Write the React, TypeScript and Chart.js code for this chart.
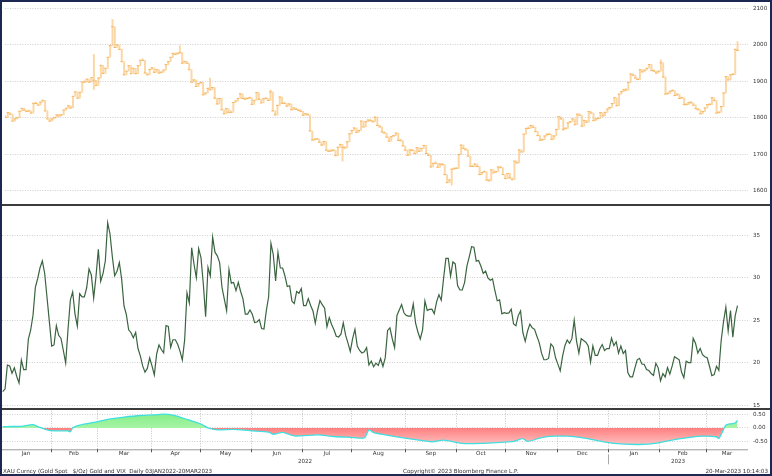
import { useEffect, useRef } from 'react';
import { Chart, registerables } from 'chart.js';
Chart.register(...registerables);

// ---------- Gold spot daily closes (USD/oz), per month ----------
const goldJan22 = [1801, 1814, 1810, 1791, 1797, 1800, 1818, 1826, 1821, 1817, 1819, 1813, 1840, 1839, 1835, 1843, 1848, 1819, 1797, 1791, 1797];
const goldFeb22 = [1801, 1808, 1805, 1808, 1821, 1826, 1833, 1827, 1859, 1871, 1854, 1870, 1898, 1898, 1906, 1898, 1910, 1903, 1889, 1909];
const goldMar22 = [1944, 1922, 1936, 1966, 1998, 2050, 1993, 2000, 1988, 1954, 1918, 1928, 1943, 1921, 1936, 1921, 1943, 1958, 1958, 1923, 1918, 1933, 1937];
const goldApr22 = [1925, 1932, 1923, 1925, 1931, 1946, 1954, 1966, 1977, 1974, 1977, 1979, 1950, 1955, 1950, 1932, 1898, 1904, 1886, 1894, 1897];
const goldMay22 = [1863, 1868, 1881, 1877, 1883, 1854, 1838, 1853, 1822, 1811, 1825, 1815, 1815, 1842, 1846, 1853, 1866, 1853, 1851, 1853, 1855, 1837];
const goldJun22 = [1848, 1869, 1851, 1841, 1852, 1853, 1848, 1871, 1819, 1808, 1834, 1857, 1840, 1839, 1832, 1838, 1822, 1827, 1823, 1820, 1818, 1807];
const goldJul22 = [1811, 1808, 1764, 1739, 1740, 1742, 1733, 1725, 1735, 1711, 1708, 1709, 1711, 1696, 1719, 1727, 1719, 1717, 1734, 1756, 1765];
const goldAug22 = [1772, 1760, 1765, 1791, 1775, 1789, 1794, 1792, 1789, 1802, 1779, 1775, 1761, 1758, 1747, 1736, 1748, 1751, 1758, 1738, 1737, 1723, 1711];
const goldSep22 = [1697, 1712, 1710, 1702, 1718, 1708, 1716, 1724, 1702, 1697, 1665, 1675, 1675, 1664, 1673, 1671, 1644, 1622, 1629, 1659, 1660, 1661];
const goldOct22 = [1699, 1725, 1716, 1712, 1695, 1667, 1666, 1673, 1666, 1644, 1650, 1652, 1629, 1627, 1657, 1649, 1652, 1665, 1663, 1644, 1633];
const goldNov22 = [1647, 1635, 1630, 1681, 1676, 1712, 1706, 1755, 1771, 1771, 1779, 1774, 1762, 1751, 1738, 1740, 1750, 1755, 1754, 1741, 1750, 1768];
const goldDec22 = [1803, 1797, 1769, 1771, 1786, 1789, 1797, 1781, 1810, 1807, 1777, 1793, 1788, 1817, 1813, 1792, 1797, 1798, 1814, 1805, 1815, 1824];
const goldJan23 = [1828, 1839, 1855, 1833, 1865, 1872, 1877, 1876, 1897, 1920, 1917, 1909, 1905, 1932, 1926, 1931, 1936, 1946, 1930, 1928, 1923, 1928];
const goldFeb23 = [1951, 1912, 1865, 1867, 1873, 1875, 1861, 1865, 1853, 1855, 1836, 1836, 1842, 1841, 1835, 1825, 1822, 1811, 1817, 1827];
const goldMar23 = [1836, 1836, 1855, 1847, 1813, 1815, 1831, 1868, 1913, 1904, 1918, 1919, 1988, 1985];

// intraday extremes that stick out of the open/close range
const goldHighIdx = [38, 46, 75, 88, 114, 282, 315];
const goldHighVal = [1974, 2070, 1998, 1909, 1876, 1959, 2009];
const goldLowIdx = [38, 145, 192, 240];
const goldLowVal = [1878, 1681, 1615, 1765];

// ---------- VIX daily closes, per month ----------
const vixJan22 = [16.6, 16.91, 19.73, 19.61, 18.76, 19.4, 18.41, 17.62, 20.31, 19.19, 19.19, 22.79, 23.85, 25.59, 28.85, 29.9, 31.16, 31.96, 30.49, 27.66, 24.83];
const vixFeb22 = [21.96, 22.09, 24.35, 23.22, 22.86, 21.44, 19.96, 23.91, 27.36, 28.33, 25.7, 24.29, 28.11, 27.75, 27.75, 28.81, 31.02, 30.32, 27.59, 30.15];
const vixMar22 = [33.32, 29.57, 30.48, 31.98, 36.45, 35.13, 32.45, 30.23, 30.75, 31.77, 29.83, 26.67, 25.67, 23.87, 23.53, 22.94, 23.57, 21.67, 20.81, 19.63, 18.9, 19.33, 20.56];
const vixApr22 = [19.63, 18.57, 21.03, 22.1, 21.55, 21.16, 24.37, 24.26, 21.82, 22.7, 22.7, 22.17, 21.37, 20.32, 22.68, 28.21, 27.02, 33.52, 31.6, 29.99, 33.4];
const vixMay22 = [32.34, 29.25, 25.42, 31.2, 30.19, 34.75, 32.99, 32.56, 31.77, 28.87, 27.47, 26.1, 30.96, 29.35, 29.43, 28.48, 29.45, 28.37, 27.5, 25.72, 25.72, 26.19];
const vixJun22 = [25.69, 24.72, 24.79, 25.07, 24.02, 23.96, 26.09, 27.75, 34.02, 32.69, 29.62, 32.95, 31.13, 31.13, 30.19, 28.95, 29.05, 27.23, 26.95, 28.36, 28.16, 28.71];
const vixJul22 = [26.7, 26.7, 27.54, 26.73, 26.08, 24.64, 26.17, 27.29, 26.82, 26.4, 24.23, 25.3, 24.5, 23.88, 23.11, 23.03, 23.36, 24.69, 23.24, 22.33, 21.33];
const vixAug22 = [22.84, 23.93, 21.95, 21.44, 21.15, 21.29, 21.77, 19.74, 20.2, 19.53, 19.95, 19.69, 20.5, 19.56, 20.6, 23.8, 24.11, 22.82, 21.78, 25.56, 26.21, 26.83, 25.87];
const vixSep22 = [25.56, 25.47, 25.47, 26.91, 24.64, 23.61, 22.79, 23.87, 27.27, 26.16, 26.27, 26.3, 25.76, 27.16, 27.99, 27.35, 29.92, 32.26, 32.27, 30.18, 31.84, 31.62];
const vixOct22 = [29.07, 28.55, 28.55, 29.42, 31.36, 32.45, 33.63, 33.57, 31.94, 32.02, 31.37, 30.5, 30.76, 29.98, 29.69, 29.85, 28.46, 27.28, 27.39, 25.75, 25.88];
const vixNov22 = [25.81, 25.86, 26.3, 24.55, 24.35, 25.54, 26.09, 23.53, 22.52, 23.73, 24.54, 24.11, 23.93, 23.12, 22.36, 21.13, 20.35, 20.35, 20.5, 22.21, 21.89, 20.58];
const vixDec22 = [19.84, 19.06, 20.75, 22.0, 22.68, 22.29, 22.83, 25.0, 22.55, 21.14, 22.83, 22.62, 22.42, 21.97, 20.07, 21.97, 20.87, 20.87, 21.65, 22.14, 21.44, 21.67];
const vixJan23 = [21.67, 22.9, 22.01, 22.46, 21.13, 21.97, 21.09, 21.43, 18.83, 18.35, 18.35, 19.36, 20.34, 20.52, 19.85, 19.81, 19.2, 19.08, 18.73, 18.51, 19.94, 19.4];
const vixFeb23 = [17.87, 18.73, 18.33, 19.43, 18.66, 19.63, 20.71, 20.53, 20.34, 18.91, 18.23, 20.17, 20.02, 20.02, 22.87, 22.29, 21.14, 21.67, 20.95, 20.7];
const vixMar23 = [20.58, 19.59, 18.49, 18.61, 19.59, 19.11, 22.61, 24.8, 26.52, 23.73, 26.14, 22.99, 25.51, 26.7];

// ---------- Rolling correlation gold vs VIX (day index, value) ----------
const corrIdx = [0, 2, 8, 13, 15, 18, 21, 28, 29, 30, 33, 41, 45, 52, 59, 65, 69, 73, 79, 85, 88, 92, 99, 106, 114, 116, 120, 125, 135, 142, 149, 155, 157, 159, 162, 171, 184, 189, 197, 205, 214, 219, 223, 225, 231, 236, 242, 248, 254, 262, 273, 281, 288, 294, 300, 306, 307, 309, 310, 312, 314, 315];
const corrVal = [0.05, 0.05, 0.06, 0.12, 0.05, -0.04, -0.1, -0.11, -0.14, 0.0, 0.1, 0.23, 0.31, 0.39, 0.45, 0.47, 0.5, 0.46, 0.31, 0.14, 0.0, -0.07, -0.05, -0.1, -0.15, -0.23, -0.16, -0.29, -0.25, -0.31, -0.34, -0.36, -0.07, -0.17, -0.22, -0.35, -0.5, -0.44, -0.56, -0.56, -0.52, -0.49, -0.39, -0.49, -0.35, -0.3, -0.3, -0.35, -0.44, -0.56, -0.6, -0.54, -0.42, -0.35, -0.3, -0.32, -0.38, -0.06, 0.1, 0.15, 0.18, 0.27];

const monthLabels = ['Jan', 'Feb', 'Mar', 'Apr', 'May', 'Jun', 'Jul', 'Aug', 'Sep', 'Oct', 'Nov', 'Dec', 'Jan', 'Feb', 'Mar'];
const yearLabels = ['2022', '2023'];
const yearFirstMonth = [0, 12];

const goldMonths = [goldJan22, goldFeb22, goldMar22, goldApr22, goldMay22, goldJun22, goldJul22, goldAug22, goldSep22, goldOct22, goldNov22, goldDec22, goldJan23, goldFeb23, goldMar23];
const vixMonths = [vixJan22, vixFeb22, vixMar22, vixApr22, vixMay22, vixJun22, vixJul22, vixAug22, vixSep22, vixOct22, vixNov22, vixDec22, vixJan23, vixFeb23, vixMar23];
const goldClose = goldMonths.flat();
const vixClose = vixMonths.flat();
const monthStart: number[] = [];
goldMonths.reduce((acc, m) => { monthStart.push(acc); return acc + m.length; }, 0);

const X_MIN = -0.3;
const X_MAX = 319.5;
const FONT = 'DejaVu Sans';
const FS = 5.6;
const TXT = '#333';

function yAxis(min: number, max: number, step: number, fmt?: (v: number) => string) {
  return {
    position: 'right',
    min,
    max,
    ticks: {
      stepSize: step,
      includeBounds: false,
      autoSkip: false,
      color: TXT,
      font: { family: FONT, size: FS },
      padding: 5,
      callback: fmt ? (v: any) => fmt(Number(v)) : (v: any) => String(v),
    },
    grid: { color: '#c2c2c2', lineWidth: 0.8, drawTicks: false },
    border: { display: false, dash: [1, 1.5] },
    afterFit(s: any) {
      s.width = 24;
      s.paddingTop = 0;
      s.paddingBottom = 0;
    },
  };
}
const xAxis = { type: 'linear', min: X_MIN, max: X_MAX, display: false, offset: false };

function useChart(build: (c: HTMLCanvasElement) => Chart) {
  const ref = useRef<HTMLCanvasElement | null>(null);
  useEffect(() => {
    if (!ref.current) return;
    const ch = build(ref.current);
    return () => ch.destroy();
  }, []);
  return ref;
}

const baseOpts = {
  animation: false,
  responsive: false,
  events: [],
  plugins: { legend: { display: false }, tooltip: { enabled: false } },
};

function buildGold(cv: HTMLCanvasElement) {
  const bars = goldClose.map((c, i) => {
    const o = i === 0 ? c : goldClose[i - 1];
    let lo = Math.min(o, c);
    let hi = Math.max(o, c);
    const hk = goldHighIdx.indexOf(i);
    if (hk >= 0) hi = Math.max(hi, goldHighVal[hk]);
    const lk = goldLowIdx.indexOf(i);
    if (lk >= 0) lo = Math.min(lo, goldLowVal[lk]);
    return { x: i, y: [lo, hi] };
  });
  const ticks = goldClose.map((c, i) => ({ x: i, y: c }));
  return new Chart(cv, {
    type: 'bar',
    data: {
      datasets: [
        { type: 'bar', data: bars as any, backgroundColor: 'rgba(248,190,110,0.62)', barThickness: 1.3, minBarLength: 1.5 } as any,
        { type: 'line', data: ticks, showLine: false, pointStyle: 'line', pointRadius: 1.3, pointBorderWidth: 0.9, pointBorderColor: '#f4a43c', pointBackgroundColor: '#f4a43c' } as any,
      ],
    },
    options: {
      ...baseOpts,
      layout: { padding: { left: 2, right: 0, top: 3, bottom: 2 } },
      scales: { x: xAxis, y: yAxis(1574, 2110, 100) },
    } as any,
  });
}

function buildVix(cv: HTMLCanvasElement) {
  return new Chart(cv, {
    type: 'line',
    data: {
      datasets: [
        { data: vixClose.map((v, i) => ({ x: i, y: v })), borderColor: '#3a6440', borderWidth: 1.2, pointRadius: 0, tension: 0 } as any,
      ],
    },
    options: {
      ...baseOpts,
      layout: { padding: { left: 2, right: 0, top: 1, bottom: 1 } },
      scales: { x: xAxis, y: yAxis(14.8, 38.3, 5) },
    } as any,
  });
}

function buildCorr(cv: HTMLCanvasElement) {
  const vgrid = {
    id: 'vgrid',
    beforeDatasetsDraw(c: any) {
      const { ctx, chartArea: a, scales } = c;
      ctx.save();
      ctx.strokeStyle = '#b4b4b4';
      ctx.lineWidth = 0.8;
      ctx.setLineDash([1, 1.5]);
      monthStart.slice(1).forEach((s) => {
        const px = Math.round(scales.x.getPixelForValue(s - 0.5)) + 0.5;
        ctx.beginPath();
        ctx.moveTo(px, a.top);
        ctx.lineTo(px, a.bottom);
        ctx.stroke();
      });
      ctx.restore();
    },
  };
  const xlab = {
    id: 'xlab',
    afterDraw(c: any) {
      const { ctx, chartArea: a, scales } = c;
      const x = scales.x;
      ctx.save();
      ctx.strokeStyle = '#9a9a9a';
      ctx.lineWidth = 1;
      ctx.beginPath();
      ctx.moveTo(a.left, a.bottom + 0.5);
      ctx.lineTo(a.right, a.bottom + 0.5);
      ctx.stroke();
      ctx.strokeStyle = '#555';
      monthStart.slice(1).forEach((s) => {
        const px = Math.round(x.getPixelForValue(s - 0.5)) + 0.5;
        ctx.beginPath();
        ctx.moveTo(px, a.bottom);
        ctx.lineTo(px, a.bottom + 3);
        ctx.stroke();
      });
      ctx.fillStyle = TXT;
      ctx.font = `${FS}px "${FONT}"`;
      ctx.textAlign = 'center';
      ctx.textBaseline = 'middle';
      monthLabels.forEach((m, k) => {
        const s0 = monthStart[k] - 0.5;
        const s1 = k + 1 < monthStart.length ? monthStart[k + 1] - 0.5 : X_MAX;
        ctx.fillText(m, x.getPixelForValue((s0 + s1) / 2), a.bottom + 4.5);
      });
      yearLabels.forEach((y, k) => {
        const s0 = k === 0 ? X_MIN : monthStart[yearFirstMonth[k]] - 0.5;
        const s1 = k + 1 < yearLabels.length ? monthStart[yearFirstMonth[k + 1]] - 0.5 : X_MAX;
        ctx.fillText(y, x.getPixelForValue((s0 + s1) / 2), a.bottom + 12.5);
        if (k > 0) {
          const px = Math.round(x.getPixelForValue(s0)) + 0.5;
          ctx.strokeStyle = '#a8a8a8';
          ctx.beginPath();
          ctx.moveTo(px, a.bottom + 5);
          ctx.lineTo(px, a.bottom + 15);
          ctx.stroke();
        }
      });
      ctx.restore();
    },
  };
  const ch = new Chart(cv, {
    type: 'line',
    data: {
      datasets: [
        {
          data: corrIdx.map((d, k) => ({ x: d, y: corrVal[k] })),
          borderColor: '#3fdfe0',
          borderWidth: 1.3,
          pointRadius: 0,
          tension: 0.25,
          fill: { target: { value: 0 }, above: '#8ef08e', below: '#ff9a9a' },
        } as any,
      ],
    },
    options: {
      ...baseOpts,
      layout: { padding: { left: 2, right: 0, top: 0.5, bottom: 26.7 } },
      scales: { x: xAxis, y: yAxis(-0.774, 0.626, 0.5, (v) => v.toFixed(2)) },
    } as any,
    plugins: [vgrid, xlab],
  });
  const a = ch.chartArea;
  const z = ch.scales.y.getPixelForValue(0);
  const ctx = ch.ctx;
  const gUp = ctx.createLinearGradient(0, a.top, 0, z);
  gUp.addColorStop(0, '#7eee7e');
  gUp.addColorStop(1, '#a6f4a6');
  const gDn = ctx.createLinearGradient(0, z, 0, a.bottom);
  gDn.addColorStop(0, '#ff7f7f');
  gDn.addColorStop(1, '#ffd2d2');
  (ch.data.datasets[0] as any).fill = { target: { value: 0 }, above: gUp, below: gDn };
  ch.update();
  return ch;
}

export default function App() {
  const goldRef = useChart(buildGold);
  const vixRef = useChart(buildVix);
  const corrRef = useChart(buildCorr);
  const txt: any = { position: 'absolute', fontFamily: FONT, fontSize: FS, color: TXT, whiteSpace: 'pre', lineHeight: '8px' };
  return (
    <div style={{ position: 'absolute', left: 0, top: 0, width: 772, height: 476, background: '#fff', overflow: 'hidden' }}>
      <canvas ref={goldRef} width={772} height={205} style={{ position: 'absolute', left: 0, top: 0, width: 772, height: 205 }} />
      <div style={{ position: 'absolute', left: 0, top: 204, width: 772, height: 2, background: '#3c3c3c' }} />
      <canvas ref={vixRef} width={772} height={202} style={{ position: 'absolute', left: 0, top: 206, width: 772, height: 202 }} />
      <div style={{ position: 'absolute', left: 0, top: 408, width: 772, height: 2, background: '#3c3c3c' }} />
      <canvas ref={corrRef} width={772} height={66} style={{ position: 'absolute', left: 0, top: 410, width: 772, height: 66 }} />
      <div style={{ ...txt, left: 3, top: 467 }}>{'XAU Curncy (Gold Spot   $/Oz) Gold and VIX  Daily 03JAN2022-20MAR2023'}</div>
      <div style={{ ...txt, left: 403, top: 467 }}>{'Copyright\u00A9 2023 Bloomberg Finance L.P.'}</div>
      <div style={{ ...txt, right: 4, top: 467 }}>{'20-Mar-2023 10:14:03'}</div>
      <div style={{ position: 'absolute', left: 0, top: 0, width: 772, height: 476, boxSizing: 'border-box', border: '2px solid #1d2852', pointerEvents: 'none' }} />
    </div>
  );
}
